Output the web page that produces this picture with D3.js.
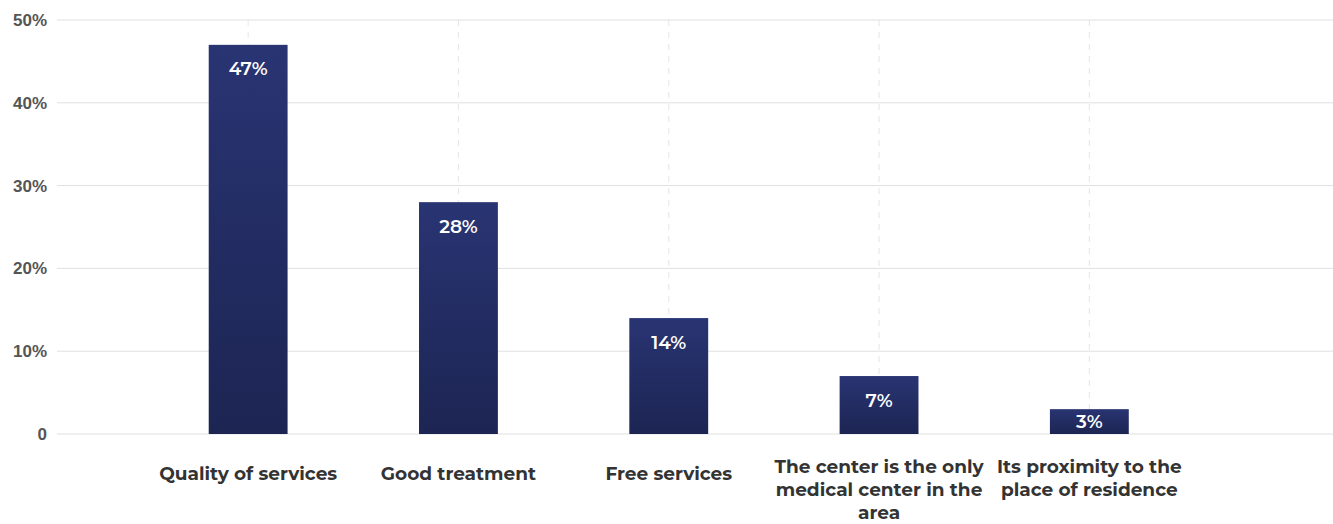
<!DOCTYPE html>
<html>
<head>
<meta charset="utf-8">
<script src="https://cdn.jsdelivr.net/npm/d3@7"></script>
<style>
  html, body { margin: 0; padding: 0; background: #fff; }
  svg { display: block; font-family: "Montserrat", "Open Sans", "Noto Sans", sans-serif; }
</style>
</head>
<body>
<svg id="chart" width="1333" height="524"></svg>
<script>
// Reasons for choosing the center (share of respondents)
const categories = [
  "Quality of services",
  "Good treatment",
  "Free services",
  "The center is the only medical center in the area",
  "Its proximity to the place of residence"
];
const values = [47, 28, 14, 7, 3];
const yTicks = [0, 10, 20, 30, 40, 50];

const svg = d3.select("#chart");
const plot = { left: 57, right: 1333, top: 20, bottom: 434 };

const x = d3.scaleBand()
  .domain(categories)
  .range([143, 1194.5])
  .paddingInner(0.625)
  .paddingOuter(0.3125);

const y = d3.scaleLinear()
  .domain([0, 50])
  .range([plot.bottom, plot.top]);

// bar gradient
const defs = svg.append("defs");
const grad = defs.append("linearGradient")
  .attr("id", "barGrad").attr("x1", 0).attr("y1", 0).attr("x2", 0).attr("y2", 1);
grad.append("stop").attr("offset", "0%").attr("stop-color", "#293473");
grad.append("stop").attr("offset", "100%").attr("stop-color", "#1c2552");

// horizontal gridlines
svg.append("g")
  .selectAll("line")
  .data(yTicks)
  .join("line")
  .attr("x1", plot.left).attr("x2", plot.right)
  .attr("y1", d => y(d)).attr("y2", d => y(d))
  .attr("stroke", "#e0e0e0").attr("stroke-width", 1);

// vertical dashed gridlines at category centers
svg.append("g")
  .selectAll("line")
  .data(categories)
  .join("line")
  .attr("x1", d => x(d) + x.bandwidth() / 2)
  .attr("x2", d => x(d) + x.bandwidth() / 2)
  .attr("y1", plot.top).attr("y2", plot.bottom)
  .attr("stroke", "#e6e6e6").attr("stroke-width", 1)
  .attr("stroke-dasharray", "6,6");

// y axis labels
const yAxis = d3.axisLeft(y)
  .tickValues(yTicks)
  .tickSize(0)
  .tickPadding(0)
  .tickFormat(d => d === 0 ? "0" : d + "%");
const gy = svg.append("g")
  .attr("transform", `translate(47,0)`)
  .call(yAxis);
gy.select(".domain").remove();
gy.selectAll("text")
  .attr("fill", "#555")
  .attr("font-size", 17)
  .attr("font-weight", 600)
  .attr("dy", "0.32em");

// bars
svg.append("g")
  .selectAll("rect")
  .data(values)
  .join("rect")
  .attr("x", (d, i) => x(categories[i]))
  .attr("width", x.bandwidth())
  .attr("y", d => y(d))
  .attr("height", d => y(0) - y(d))
  .attr("fill", "url(#barGrad)");

// value labels inside bars (centred in short bars)
svg.append("g")
  .selectAll("text")
  .data(values)
  .join("text")
  .attr("x", (d, i) => x(categories[i]) + x.bandwidth() / 2)
  .attr("y", d => Math.min(y(d) + 24, (y(d) + y(0)) / 2))
  .attr("dy", "0.35em")
  .attr("text-anchor", "middle")
  .attr("fill", "#fff")
  .attr("font-size", 18.5)
  .attr("font-weight", 600)
  .text(d => d + "%");

// category labels, wrapped to a fixed width
const maxLabelWidth = 215;
const lineHeight = 23;
const labelG = svg.append("g");
categories.forEach(cat => {
  const cx = x(cat) + x.bandwidth() / 2;
  const t = labelG.append("text")
    .attr("text-anchor", "middle")
    .attr("fill", "#333")
    .attr("font-size", 18.5)
    .attr("font-weight", 700);
  const words = cat.split(" ");
  const lines = [];
  let cur = [];
  const probe = t.append("tspan");
  words.forEach(w => {
    const trial = cur.concat(w).join(" ");
    probe.text(trial);
    if (probe.node().getComputedTextLength() > maxLabelWidth && cur.length) {
      lines.push(cur.join(" "));
      cur = [w];
    } else {
      cur.push(w);
    }
  });
  lines.push(cur.join(" "));
  probe.remove();
  const firstY = lines.length === 1 ? 474 : 467;
  lines.forEach((ln, k) => {
    t.append("tspan")
      .attr("x", cx)
      .attr("y", firstY + k * lineHeight)
      .attr("dy", "0.32em")
      .text(ln);
  });
});
</script>
</body>
</html>
